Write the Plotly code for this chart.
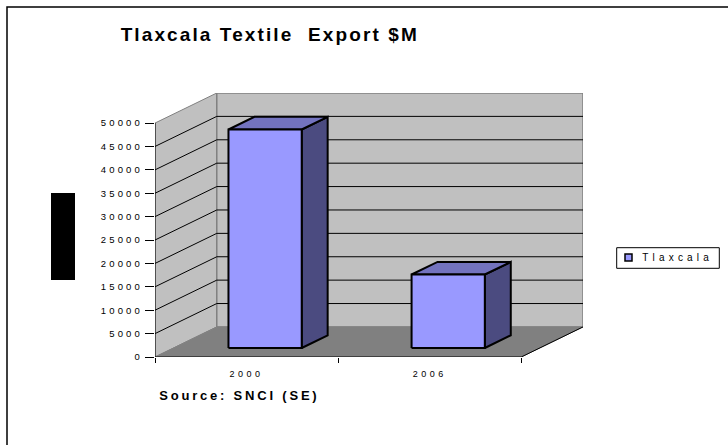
import json
import plotly.graph_objects as go

# ---- data -------------------------------------------------------------
categories = ["2000", "2006"]
values = [46700, 15700]
y_ticks = [0, 5000, 10000, 15000, 20000, 25000, 30000, 35000, 40000, 45000, 50000]
series_name = "Tlaxcala"
title_text = "Tlaxcala Textile\u00a0 Export $M"
x_title = "Source: SNCI (SE)"

# ---- page / plot-area geometry ---------------------------------------
W, H = 728, 445
ML, MR, MT, MB = 155, 145, 93, 88
PW = W - ML - MR
PH = H - MT - MB

Y_TOP = 50000          # top of the value axis
DX = 0.3374            # depth shift along the category axis (category units)
DY = 6427              # depth shift along the value axis (value units)
BAR_W = 0.4            # bar width, category units
F0, F1 = 0.30, 0.72    # front / back of each bar as a fraction of the depth

X0 = -0.5
X1 = len(categories) - 0.5

WALL = "#C0C0C0"
FLOOR = "#808080"
EDGE = "#808080"
FRONT = "#9999FF"
SIDE = "#4B4B80"
TOP = "#7373BF"
FONT = "Liberation Sans, Arial, sans-serif"


def paper(px, py):
    """Pixel position on the page -> paper coordinates."""
    return (px - ML) / PW, (H - MB - py) / PH


def poly(xs, ys, fill, line_color, line_width, name=None):
    return go.Scatter(
        x=list(xs) + [xs[0]], y=list(ys) + [ys[0]],
        mode="lines", fill="toself", fillcolor=fill,
        line=dict(color=line_color, width=line_width),
        hoverinfo="skip", showlegend=False, name=name,
    )


def segs(pairs, color, width):
    xs, ys = [], []
    for (xa, ya), (xb, yb) in pairs:
        xs += [xa, xb, None]
        ys += [ya, yb, None]
    return go.Scatter(x=xs, y=ys, mode="lines", line=dict(color=color, width=width),
                      hoverinfo="skip", showlegend=False)


traces = []

# side wall, back wall, floor
traces.append(poly([X0, X0, X0 + DX, X0 + DX], [0, Y_TOP, Y_TOP + DY, DY], WALL, EDGE, 1))
traces.append(poly([X0 + DX, X1 + DX, X1 + DX, X0 + DX], [DY, DY, Y_TOP + DY, Y_TOP + DY], WALL, EDGE, 1.5))
traces.append(poly([X0, X1, X1 + DX, X0 + DX], [0, 0, DY, DY], FLOOR, EDGE, 1))

# gridlines across the side and back walls
grid = []
for v in y_ticks[1:-1]:
    grid.append(((X0, v), (X0 + DX, v + DY)))
    grid.append(((X0 + DX, v + DY), (X1 + DX, v + DY)))
traces.append(segs(grid, "black", 1))

# front edges of the box
traces.append(segs([((X0, 0), (X0, Y_TOP)), ((X0, 0), (X1, 0)), ((X1, 0), (X1 + DX, DY))], "black", 1))

# 3-D bars
a0, b0 = F0 * DX, F0 * DY
a1, b1 = F1 * DX, F1 * DY
for i, v in enumerate(values):
    xl, xr = i - BAR_W / 2, i + BAR_W / 2
    traces.append(poly([xr + a0, xr + a1, xr + a1, xr + a0], [b0, b1, b1 + v, b0 + v], SIDE, "black", 2))
    traces.append(poly([xl + a0, xr + a0, xr + a1, xl + a1], [b0 + v, b0 + v, b1 + v, b1 + v], TOP, "black", 2))
    traces.append(poly([xl + a0, xr + a0, xr + a0, xl + a0], [b0, b0, b0 + v, b0 + v], FRONT, "black", 2, name=series_name))

fig = go.Figure(traces)

# ---- decorations: frame, legend, side label block --------------------
shapes = []
fx0, fy0 = paper(7, 7)
fx1, fy1 = paper(736, 452)
shapes.append(dict(type="rect", xref="paper", yref="paper", x0=fx0, y0=fy1, x1=fx1, y1=fy0,
                   line=dict(color="black", width=1.5), fillcolor="rgba(0,0,0,0)", layer="below"))
bx0, by0 = paper(51, 193)
bx1, by1 = paper(75, 280)
shapes.append(dict(type="rect", xref="paper", yref="paper", x0=bx0, y0=by1, x1=bx1, y1=by0,
                   line=dict(width=0), fillcolor="black"))
lx0, ly0 = paper(616.7, 247.7)
lx1, ly1 = paper(719.3, 268.3)
shapes.append(dict(type="rect", xref="paper", yref="paper", x0=lx0, y0=ly1, x1=lx1, y1=ly0,
                   line=dict(color="black", width=1), fillcolor="white"))
sx0, sy0 = paper(625, 254)
sx1, sy1 = paper(632, 261)
shapes.append(dict(type="rect", xref="paper", yref="paper", x0=sx0, y0=sy1, x1=sx1, y1=sy0,
                   line=dict(color="black", width=1.5), fillcolor=FRONT))

# text centres (letter spacing adds a trailing gap, hence the small right shift)
tx, ty = paper(269.5, 35)
srx, sry = paper(239.5, 395)
ltx, lty = paper(678, 257)
annotations = [
    dict(text=title_text, x=tx, y=ty, xref="paper", yref="paper",
         xanchor="center", yanchor="middle", showarrow=False,
         font=dict(family=FONT, size=19, color="black", weight="bold")),
    dict(text=x_title, x=srx, y=sry, xref="paper", yref="paper",
         xanchor="center", yanchor="middle", showarrow=False,
         font=dict(family=FONT, size=13, color="black", weight="bold")),
    dict(text=series_name, x=ltx, y=lty, xref="paper", yref="paper",
         xanchor="center", yanchor="middle", showarrow=False,
         font=dict(family=FONT, size=10, color="black")),
]

fig.update_layout(
    width=W, height=H, autosize=False,
    margin=dict(l=ML, r=MR, t=MT, b=MB, pad=0),
    paper_bgcolor="white", plot_bgcolor="rgba(0,0,0,0)",
    showlegend=False,
    shapes=shapes, annotations=annotations,
    font=dict(family=FONT, color="black"),
    xaxis=dict(
        range=[X0, X1 + DX], tickvals=list(range(len(categories))), ticktext=categories,
        ticks="", showgrid=False, zeroline=False, showline=False, fixedrange=True,
        tickfont=dict(family=FONT, size=9, color="black"), ticklabelstandoff=10,
        minor=dict(tickvals=[X0 + k for k in range(len(categories) + 1)], ticks="outside",
                   ticklen=5, tickwidth=1, tickcolor="black", showgrid=False),
    ),
    yaxis=dict(
        range=[0, Y_TOP + DY], tickvals=y_ticks, ticktext=[str(t) for t in y_ticks],
        ticks="outside", ticklen=9, tickwidth=1,
        tickcolor="black", showgrid=False, zeroline=False, showline=False, fixedrange=True,
        tickfont=dict(family=FONT, size=9.5, color="black"),
    ),
)

spacing = {title_text: "2.1px", x_title: "2.8px", series_name: "4.2px"}
post = """
var gd = document.getElementById('{plot_id}');
function ls(sel, v) { gd.querySelectorAll(sel).forEach(function (t) { t.style.letterSpacing = v; }); }
ls('.ytick text', '3.2px');
ls('.xtick text', '3.5px');
var m = %s;
gd.querySelectorAll('.annotation-text').forEach(function (t) {
  var k = t.textContent;
  if (m[k] !== undefined) { t.style.letterSpacing = m[k]; }
});
""" % json.dumps(spacing)

fig.write_html("out.html", config={"displayModeBar": False, "staticPlot": True}, post_script=post)
